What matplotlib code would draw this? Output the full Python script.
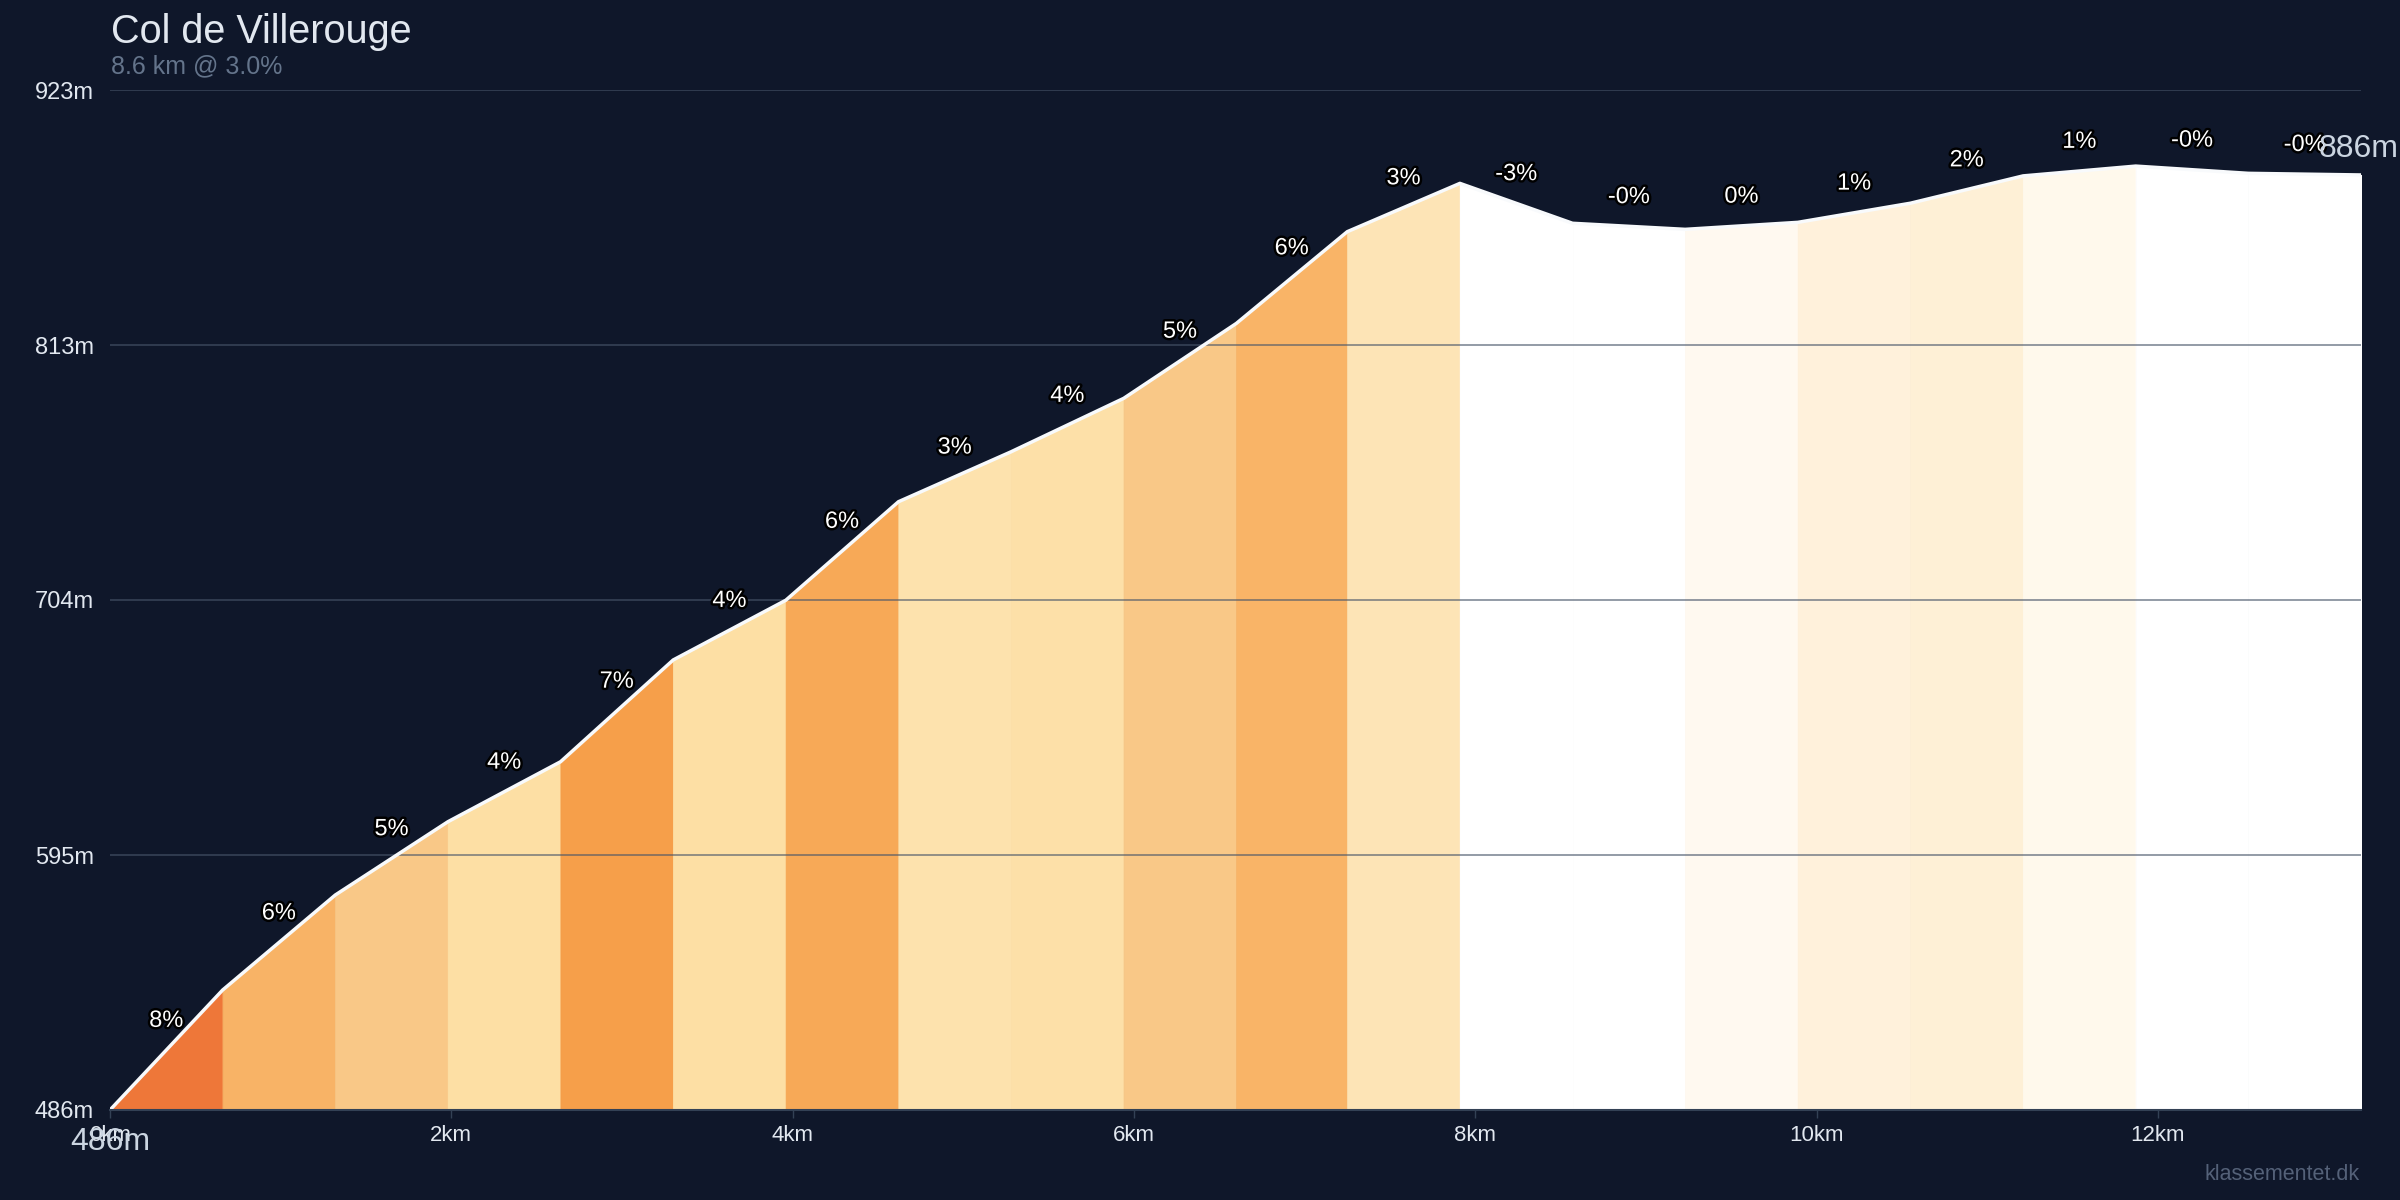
import numpy as np
import matplotlib
matplotlib.use("Agg")
import matplotlib.pyplot as plt
import matplotlib.patheffects as pe

plt.rcParams['font.family'] = ['Liberation Sans', 'DejaVu Sans']

# ---- data ----
TITLE = "Col de Villerouge"
SUBTITLE = "8.6 km @ 3.0%"
distance_km = [0.0, 0.66, 1.32, 1.98, 2.64, 3.30, 3.96, 4.62, 5.28, 5.94, 6.60,
               7.25, 7.91, 8.57, 9.23, 9.89, 10.55, 11.21, 11.87, 12.53, 13.19]
elevation_m = [486.0, 537.4, 578.1, 609.5, 635.2, 678.8, 704.4, 746.6, 768.0, 790.9, 823.0,
               862.3, 883.0, 865.9, 863.3, 866.3, 874.5, 886.2, 890.4, 887.3, 886.6]
gradient_labels = ["8%", "6%", "5%", "4%", "7%", "4%", "6%", "3%", "4%", "5%", "6%",
                   "3%", "-3%", "-0%", "0%", "1%", "2%", "1%", "-0%", "-0%"]
xtick_km = [0, 2, 4, 6, 8, 10, 12]
y_min, y_max = 486, 923

# ---- styles ----
segment_colors = ["#EE7739", "#F8B366", "#F9C887", "#FDDFA4", "#F69F4A", "#FDDFA4",
                  "#F7A957", "#FDE2AD", "#FDE0A8", "#F9C887", "#F9B467", "#FDE4B6",
                  "#FFFFFF", "#FFFFFF", "#FFF9F0", "#FFF1DB", "#FEF0D6", "#FFF9EC",
                  "#FFFFFF", "#FFFFFF"]
BG = "#0f172a"

fig = plt.figure(figsize=(24, 12), dpi=100, facecolor=BG)
ax = fig.add_axes([110/2400, 1 - 1110/1200, (2361-110)/2400, (1110-90)/1200])
ax.set_facecolor(BG)

x = np.array(distance_km)
y = np.array(elevation_m)
for i in range(len(x) - 1):
    ax.fill_between([x[i], x[i+1]], [y[i], y[i+1]], y_min,
                    facecolor=segment_colors[i], edgecolor=segment_colors[i],
                    lw=0.8, zorder=1)

ax.plot(x, y, color="#f8fafc", lw=2.5, zorder=4, solid_joinstyle='round')

yticks = np.linspace(y_min, y_max, 5)
for v in yticks[1:]:
    ax.axhline(v, color="#475569", lw=1.1, alpha=0.75, zorder=3)

ax.set_xlim(x[0], x[-1])
ax.set_ylim(y_min, y_max)
ax.set_yticks(yticks)
ax.set_yticklabels([f"{int(v)}m" for v in yticks])
ax.set_xticks(xtick_km)
ax.set_xticklabels([f"{k}km" for k in xtick_km])
ax.tick_params(axis='y', length=0, pad=11.5, labelsize=17, labelcolor="#e2e8f0")
ax.tick_params(axis='x', length=6, width=1, color="#334155", pad=5,
               labelsize=16, labelcolor="#e2e8f0")
for s in ['top', 'right', 'left']:
    ax.spines[s].set_visible(False)
ax.spines['bottom'].set_color("#334155")
ax.spines['bottom'].set_linewidth(1.5)
ax.spines['bottom'].set_zorder(5)

stroke = [pe.withStroke(linewidth=3.5, foreground="black")]
for i, lab in enumerate(gradient_labels):
    xm = (x[i] + x[i+1]) / 2
    ym = (y[i] + y[i+1]) / 2
    ax.annotate(lab, (xm, ym), xytext=(0, 21), textcoords='offset points',
                ha='center', va='center', fontsize=17, color='white',
                path_effects=stroke, zorder=6, annotation_clip=False)

ax.annotate(f"{int(y[0])}m", (x[0], y[0]), xytext=(0, -23),
            textcoords='offset points', ha='center', va='center',
            fontsize=23, color="#cbd5e1", zorder=6, annotation_clip=False)
ax.annotate(f"{int(y[-1])}m", (x[-1], y[-1]), xytext=(-2, 19),
            textcoords='offset points', ha='center', va='center',
            fontsize=23, color="#cbd5e1", zorder=6, annotation_clip=False)

fig.text(111/2400, 1 - 43/1200, TITLE, fontsize=28.5, color="#e2e8f0",
         ha='left', va='baseline')
fig.text(111/2400, 1 - 73/1200, SUBTITLE, fontsize=18, color="#64748b",
         ha='left', va='baseline')
fig.text(2360/2400, 20/1200, "klassementet.dk", fontsize=15.5, color="#546178",
         ha='right', va='baseline')

fig.savefig("out.png", dpi=100, facecolor=BG)
